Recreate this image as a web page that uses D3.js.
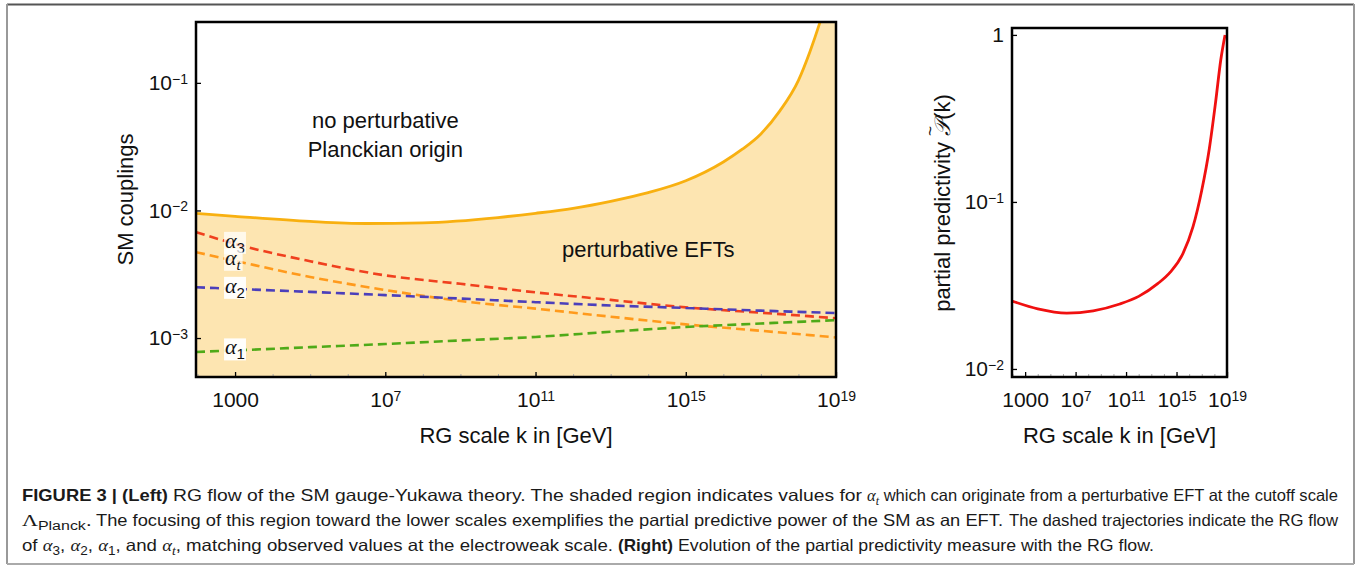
<!DOCTYPE html>
<html>
<head>
<meta charset="utf-8">
<script src="https://cdn.jsdelivr.net/npm/d3@7"></script>
<style>
body { margin: 0; background: #fff; }
svg text { font-family: "Liberation Sans", Arial, Helvetica, sans-serif; fill: #111; }
.frame { fill: none; stroke: #000; stroke-width: 2.5; }
.minor line { stroke: #aaa; stroke-width: 1; }
.major line { stroke: #000; stroke-width: 1.3; }
.math { font-family: "Liberation Serif", "DejaVu Serif", serif; font-style: italic; }
.caption text { font-family: "Liberation Sans Narrow", "Liberation Sans", Arial, sans-serif; font-size: 16.5px; fill: #1a1a1a; }
</style>
</head>
<body>
<div id="figure"></div>
<script>
// upper edge of the perturbative region (solid orange)
var kBound = [91.2, 1e3, 1e5, 3e6, 1e8, 1e10, 1e11, 1e12, 1e13, 1e14, 1e15, 1e16, 3.2e16, 1e17, 3.2e17, 1e18, 2e18, 3.7e18, 1e19];
var boundary = [0.0095, 0.0090, 0.0082, 0.0079, 0.0080, 0.0088, 0.0095, 0.0104, 0.0118, 0.0138, 0.0171, 0.0240, 0.0302, 0.0398, 0.0603, 0.1047, 0.174, 0.295, 0.80];

// dashed RG trajectories
var kFlow = [91.2, 1e3, 1e5, 1e7, 1e9, 1e11, 1e13, 1e15, 1e17, 1e19];
var alpha3 = [0.00677, 0.00547, 0.0040, 0.0031, 0.00266, 0.00228, 0.00199, 0.00174, 0.00158, 0.00143];
var alphaT = [0.00471, 0.00403, 0.00301, 0.00238, 0.00195, 0.00170, 0.00147, 0.00128, 0.00114, 0.00101];
var alpha2 = [0.00250, 0.00243, 0.00230, 0.00217, 0.00204, 0.00191, 0.00180, 0.00172, 0.00164, 0.00157];
var alpha1 = [0.000778, 0.000800, 0.000848, 0.000898, 0.000958, 0.00102, 0.00112, 0.00122, 0.00130, 0.00138];
var flowNames = ["3", "t", "2", "1"];
var flowColors = ["#f0401e", "#ff9a1c", "#4b3fbb", "#4faa18"];

// partial predictivity (right panel)
var kPred = [91.2, 1e4, 2e6, 2.5e8, 3.2e10, 1e12, 3.2e13, 3.2e14, 3.2e15, 2e16, 1e17, 4e17, 1.26e18, 3.2e18, 7e18];
var predictivity = [0.0255, 0.0229, 0.0216, 0.0223, 0.0245, 0.0272, 0.0324, 0.0380, 0.0490, 0.0708, 0.1175, 0.209, 0.398, 0.708, 1.0];

// ticks
var xTicks = [1e3, 1e7, 1e11, 1e15, 1e19];
var xTickLabels = [["1000", ""], ["10", "7"], ["10", "11"], ["10", "15"], ["10", "19"]];
var xMinor = [1e2, 1e3, 1e4, 1e5, 1e6, 1e7, 1e8, 1e9, 1e10, 1e11, 1e12, 1e13, 1e14, 1e15, 1e16, 1e17, 1e18, 1e19];
var yTicksLeft = [1e-3, 1e-2, 1e-1];
var yLabelsLeft = [["10", "\u22123"], ["10", "\u22122"], ["10", "\u22121"]];
var yTicksRight = [1e-2, 1e-1, 1];
var yLabelsRight = [["10", "\u22122"], ["10", "\u22121"], ["1", ""]];

var W = 1356, H = 567;
var svg = d3.select("#figure").append("svg")
    .attr("width", W)
    .attr("height", H);

// outer box of the figure
svg.append("line").attr("x1", 7).attr("x2", 1354).attr("y1", 4.5).attr("y2", 4.5)
    .attr("stroke", "#555").attr("stroke-width", 2);
svg.append("line").attr("x1", 7).attr("x2", 7).attr("y1", 4).attr("y2", 564)
    .attr("stroke", "#999").attr("stroke-width", 2);
svg.append("line").attr("x1", 1354).attr("x2", 1354).attr("y1", 4).attr("y2", 564)
    .attr("stroke", "#999").attr("stroke-width", 2);
svg.append("line").attr("x1", 7).attr("x2", 1354).attr("y1", 564).attr("y2", 564)
    .attr("stroke", "#aaa").attr("stroke-width", 2);

function powerLabels(g, labels) {
  g.selectAll(".tick text").each(function(d, i) {
    var t = d3.select(this).text("");
    t.attr("font-size", 21).attr("fill", "#111").attr("font-family", null);
    t.append("tspan").text(labels[i][0]);
    if (labels[i][1]) {
      t.append("tspan").attr("font-size", 14).attr("dy", "-0.45em").text(labels[i][1]);
    }
  });
}

function panel(opts) {
  var margin = opts.margin;
  var chartWidth = opts.width, chartHeight = opts.height;
  var g = svg.append("g")
      .attr("transform", `translate(${margin.left}, ${margin.top})`);

  var xScale = d3.scaleLog().domain([91.2, 1e19]).range([0, chartWidth]);
  var yScale = d3.scaleLog().domain(opts.yDomain).range([chartHeight, 0]);

  g.append("clipPath").attr("id", opts.id + "-clip")
    .append("rect").attr("width", chartWidth).attr("height", chartHeight);

  var plot = g.append("g").attr("clip-path", `url(#${opts.id}-clip)`);

  // minor ticks on x
  g.append("g")
      .attr("class", "minor")
      .attr("transform", `translate(0,${chartHeight})`)
      .call(d3.axisBottom(xScale).tickValues(xMinor).tickFormat("").tickSize(-3))
      .call(s => s.select(".domain").remove());

  var xAxis = d3.axisBottom(xScale)
      .tickValues(xTicks)
      .tickSize(-5)
      .tickPadding(15);
  g.append("g")
      .attr("class", "x axis major")
      .attr("transform", `translate(0,${chartHeight})`)
      .call(xAxis)
      .call(s => s.select(".domain").remove())
      .call(s => powerLabels(s, xTickLabels));

  var yAxis = d3.axisLeft(yScale)
      .tickValues(opts.yTicks)
      .tickSize(-5)
      .tickPadding(8);
  g.append("g")
      .attr("class", "y axis major")
      .call(yAxis)
      .call(s => s.select(".domain").remove())
      .call(s => powerLabels(s, opts.yLabels));

  g.append("text")
      .attr("text-anchor", "middle")
      .attr("font-size", 22)
      .attr("x", chartWidth / 2)
      .attr("y", 443 - margin.top)
      .text("RG scale k in [GeV]");

  return { g: g, plot: plot, x: xScale, y: yScale, w: chartWidth, h: chartHeight };
}

// ---------- left panel ----------
var left = panel({
  id: "left",
  margin: {top: 22, left: 196},
  width: 640, height: 355,
  yDomain: [4.95e-4, 0.3],
  yTicks: yTicksLeft,
  yLabels: yLabelsLeft
});

var boundData = kBound.map((k, i) => ({k: k, v: boundary[i]}));

var area = d3.area()
    .x(d => left.x(d.k))
    .y0(left.h)
    .y1(d => left.y(d.v))
    .curve(d3.curveMonotoneX);

left.plot.append("path")
    .datum(boundData)
    .attr("d", area)
    .attr("fill", "#fde5b1");

var lineL = d3.line()
    .x(d => left.x(d.k))
    .y(d => left.y(d.v))
    .curve(d3.curveMonotoneX);

var flows = [alpha3, alphaT, alpha2, alpha1];
flows.forEach(function(series, i) {
  left.plot.append("path")
      .datum(kFlow.map((k, j) => ({k: k, v: series[j]})))
      .attr("d", lineL)
      .attr("fill", "none")
      .attr("stroke", flowColors[i])
      .attr("stroke-width", 2.6)
      .attr("stroke-dasharray", "9,5");
});

left.plot.append("path")
    .datum(boundData)
    .attr("d", lineL)
    .attr("fill", "none")
    .attr("stroke", "#f8b010")
    .attr("stroke-width", 2.8);

// labels on the trajectories at k = 1000
flows.forEach(function(series, i) {
  var lx = left.x(kFlow[1]);
  var ly = left.y(series[1]);
  var lab = left.g.append("g");
  var t = lab.append("text")
      .attr("x", lx - 10)
      .attr("y", ly + 4)
      .attr("font-size", 22);
  t.append("tspan").attr("class", "math").text("\u03b1");
  t.append("tspan").attr("class", i == 1 ? "math" : null)
      .attr("font-size", 15).attr("dy", 5).text(flowNames[i]);
  var bb = t.node().getBBox();
  lab.insert("rect", "text")
      .attr("x", bb.x - 1).attr("y", bb.y + 4)
      .attr("width", bb.width + 2).attr("height", bb.height - 6)
      .attr("fill", "#fff").attr("opacity", i < 2 ? 0.75 : 0.95);
});

left.g.append("text")
    .attr("text-anchor", "middle")
    .attr("font-size", 22)
    .attr("x", left.x(1e7))
    .attr("y", 128 - 22)
    .text("no perturbative");
left.g.append("text")
    .attr("text-anchor", "middle")
    .attr("font-size", 22)
    .attr("x", left.x(1e7))
    .attr("y", 157 - 22)
    .text("Planckian origin");
left.g.append("text")
    .attr("text-anchor", "middle")
    .attr("font-size", 22)
    .attr("x", left.x(1e14))
    .attr("y", 257 - 22)
    .text("perturbative EFTs");

left.g.append("rect").attr("class", "frame")
    .attr("width", left.w).attr("height", left.h);

left.g.append("text")
    .attr("font-size", 22)
    .attr("text-anchor", "middle")
    .attr("transform", `translate(${133 - 196}, ${left.h / 2}) rotate(-90)`)
    .text("SM couplings");

// ---------- right panel ----------
var right = panel({
  id: "right",
  margin: {top: 28, left: 1012},
  width: 215, height: 349,
  yDomain: [0.00895, 1.1],
  yTicks: yTicksRight,
  yLabels: yLabelsRight
});

var lineR = d3.line()
    .x(d => right.x(d.k))
    .y(d => right.y(d.v))
    .curve(d3.curveMonotoneX);

right.plot.append("path")
    .datum(kPred.map((k, i) => ({k: k, v: predictivity[i]})))
    .attr("d", lineR)
    .attr("fill", "none")
    .attr("stroke", "#f01010")
    .attr("stroke-width", 2.8);

right.g.append("rect").attr("class", "frame")
    .attr("width", right.w).attr("height", right.h);

var plg = right.g.append("g")
    .attr("transform", `translate(${950 - 1012}, ${203 - 28}) rotate(-90)`);
var pl = plg.append("text")
    .attr("font-size", 22)
    .attr("text-anchor", "middle");
var prefix = "partial predictivity ";
pl.append("tspan").text(prefix);
var pSpan = pl.append("tspan").attr("class", "math").attr("font-style", "normal").text("\ud835\udcab");
pl.append("tspan").text("(k)");

// tilde over the script P: measure the pieces of the label
function measure(str, cls) {
  var tmp = plg.append("text").attr("font-size", 22).attr("class", cls || null).text(str);
  var w = tmp.node().getComputedTextLength();
  tmp.remove();
  return w;
}
var totalW = pl.node().getComputedTextLength();
var preW = measure(prefix);
var pW = measure("\ud835\udcab", "math");
plg.append("text")
    .attr("font-size", 17)
    .attr("text-anchor", "middle")
    .attr("x", -totalW / 2 + preW + pW / 2 + 3)
    .attr("y", -14)
    .text("~");

// ---------- caption ----------
var caption = svg.append("g").attr("class", "caption");
var capSegments = [
  // [line, x start, x end, parts]
  [0, 22, 168, [["FIGURE 3 | (Left)", "b"]]],
  [0, 173, 862, [["RG flow of the SM gauge-Yukawa theory. The shaded region indicates values for"]]],
  [0, 867, 1338, [["\u03b1", "m"], ["t", "ms"], [" which can originate from a perturbative EFT at the cutoff scale"]]],
  [1, 22, 92, [["\u039b", "g"], ["Planck", "s"], ["."]]],
  [1, 96, 1003, [["The focusing of this region toward the lower scales exemplifies the partial predictive power of the SM as an EFT."]]],
  [1, 1009, 1338, [["The dashed trajectories indicate the RG flow"]]],
  [2, 22, 613, [["of "], ["\u03b1", "m"], ["3", "s"], [", "], ["\u03b1", "m"], ["2", "s"], [", "], ["\u03b1", "m"], ["1", "s"], [", and "], ["\u03b1", "m"], ["t", "ms"], [", matching observed values at the electroweak scale."]]],
  [2, 618, 673, [["(Right)", "b"]]],
  [2, 678, 1154, [["Evolution of the partial predictivity measure with the RG flow."]]]
];
var capBase = [501, 526, 551];

capSegments.forEach(function(seg) {
  var t = caption.append("text")
      .attr("x", seg[1])
      .attr("y", capBase[seg[0]])
      .attr("textLength", seg[2] - seg[1])
      .attr("lengthAdjust", "spacingAndGlyphs");
  var down = false;
  seg[3].forEach(function(p) {
    var s = t.append("tspan").text(p[0]);
    var kind = p[1] || "";
    if (kind == "b") s.attr("font-weight", "bold");
    if (kind == "m" || kind == "ms") s.attr("font-family", "Liberation Serif, serif").attr("font-style", "italic");
    if (kind == "g") s.attr("font-family", "Liberation Serif, serif");
    var sub = kind == "s" || kind == "ms";
    if (sub) s.attr("font-size", 12);
    if (sub && !down) { s.attr("dy", 4); down = true; }
    else if (!sub && down) { s.attr("dy", -4); down = false; }
  });
});
</script>
</body>
</html>
